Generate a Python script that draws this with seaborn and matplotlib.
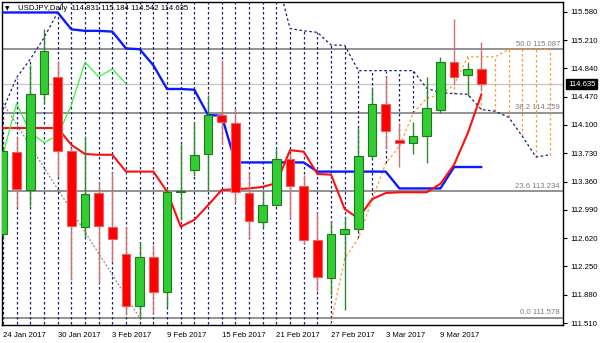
import numpy as np
import pandas as pd
import matplotlib
matplotlib.use("Agg")
import matplotlib.pyplot as plt
import seaborn as sns

# ---------------- data ----------------
opens = [112.68, 113.74, 113.25, 114.51, 114.73, 113.76, 112.77, 113.21, 112.77, 112.41,
         111.73, 112.38, 111.92, 113.22, 113.51, 113.72, 114.23, 114.12, 113.21, 112.83,
         113.06, 113.65, 113.30, 112.60, 112.10, 112.67, 112.74, 113.70, 114.38, 113.90,
         113.87, 113.95, 114.30, 114.92, 114.75, 114.831]
highs = [113.80, 113.95, 114.88, 115.36, 114.94, 113.80, 113.95, 113.35, 113.48, 112.77,
         112.57, 112.53, 113.26, 113.85, 114.14, 114.49, 114.95, 114.32, 113.49, 113.24,
         113.78, 113.73, 113.45, 112.96, 112.84, 112.90, 114.06, 114.60, 114.74, 114.12,
         114.14, 114.73, 114.99, 115.49, 114.91, 115.184]
lows = [112.64, 113.03, 113.04, 114.37, 113.42, 112.07, 112.63, 112.04, 112.31, 111.62,
        111.578, 111.63, 111.72, 112.86, 113.43, 113.25, 113.85, 113.08, 112.62, 112.76,
        113.04, 112.89, 112.55, 111.93, 111.88, 111.68, 112.72, 113.66, 113.79, 113.55,
        113.72, 113.60, 114.26, 114.64, 114.48, 114.542]
closes = [113.76, 113.26, 114.50, 115.06, 113.76, 112.78, 113.20, 112.78, 112.61, 111.73,
          112.38, 111.92, 113.23, 113.24, 113.71, 114.23, 114.14, 113.22, 112.85, 113.06,
          113.66, 113.30, 112.59, 112.11, 112.67, 112.74, 113.70, 114.38, 114.02, 113.87,
          113.96, 114.32, 114.92, 114.73, 114.83, 114.635]

tenkan = [114.06, 114.06, 114.06, 114.06, 114.06, 113.84, 113.72, 113.71, 113.71, 113.49,
          113.49, 113.49, 113.23, 112.77, 112.86, 113.05, 113.25, 113.26, 113.27, 113.29,
          113.34, 113.77, 113.75, 113.46, 113.45, 113.00, 112.88, 113.13, 113.21, 113.22,
          113.22, 113.22, 113.33, 113.58, 113.99, 114.50]
kijun = [115.57, 115.57, 115.57, 115.57, 115.57, 115.35, 115.33, 115.33, 115.32, 115.10,
         115.09, 114.88, 114.57, 114.57, 114.56, 114.23, 114.22, 113.61, 113.61, 113.61,
         113.61, 113.61, 113.61, 113.49, 113.49, 113.49, 113.49, 113.49, 113.49, 113.27,
         113.27, 113.27, 113.27, 113.55, 113.55, 113.55]
chikou = [113.72, 114.38, 114.00, 113.87, 113.96, 114.36, 114.92, 114.73, 114.83, 114.64]

span_a = [114.30, 114.72, 114.96, 115.24, 115.57, 115.90, 116.00, 116.10, 116.15, 116.20,
          116.25, 116.30, 116.30, 116.30, 116.30, 116.25, 116.20, 116.20, 116.15, 116.10,
          116.05, 115.36, 115.33, 115.31, 115.145, 115.14, 114.81, 114.81, 114.81, 114.81,
          114.81, 114.58, 114.52, 114.51, 114.50, 114.30, 114.28, 114.20, 113.95, 113.68,
          113.71]
span_b = [110.80, 110.80, 110.80, 110.80, 110.80, 110.80, 110.80, 110.80, 110.80, 110.80,
          110.80, 110.80, 110.80, 110.80, 110.80, 110.80, 110.80, 110.80, 110.80, 110.80,
          110.80, 110.80, 110.80, 110.80, 111.51, 112.35, 112.62, 113.12, 113.60, 113.82,
          114.25, 114.45, 114.50, 114.62, 114.99, 114.99, 114.99, 115.087, 115.087, 115.087,
          115.087]

fib_levels = ["0.0", "23.6", "38.2", "50.0"]
fib_prices = [111.578, 113.234, 114.259, 115.087]
fib_anchor_bars = [-15, 10]
fib_anchor_prices = [118.596, 111.578]
bid = 114.635

tick_bars = [0, 4, 8, 12, 16, 20, 24, 28, 32]
tick_labels = ["24 Jan 2017", "30 Jan 2017", "3 Feb 2017", "9 Feb 2017", "15 Feb 2017",
               "21 Feb 2017", "27 Feb 2017", "3 Mar 2017", "9 Mar 2017"]
y_tick_labels = ["115.580", "115.210", "114.840", "114.470", "114.100", "113.730",
                 "113.360", "112.990", "112.620", "112.250", "111.880", "111.510"]
title_text = "USDJPY,Daily  114.831 115.184 114.542 114.635"

# ---------------- style ----------------
sns.set_style("white")
plt.rcParams['font.family'] = ['Liberation Sans', 'DejaVu Sans']
FS = 5.6

fig = plt.figure(figsize=(6.0, 3.43), dpi=100)
ax = fig.add_axes([2 / 600, 18 / 343, 561 / 600, 323 / 343])

NAVY = '#1c1c78'
ORANGE = '#ff9a2e'

# Fibonacci levels and bid line
for p in fib_prices:
    ax.axhline(p, color='#8a8a8a', lw=1.3, zorder=1)
ax.axhline(bid, color='#c8c8c8', lw=1.0, zorder=1)
ax.plot(fib_anchor_bars, fib_anchor_prices, color='#8a8a8a', lw=0.9,
        ls=(0, (1.5, 1.5)), zorder=2)

# Ichimoku cloud (histogram of dotted verticals)
a = np.array(span_a)
b = np.array(span_b)
xs = np.arange(len(span_a))
up = a >= b
ax.vlines(xs[up], b[up], a[up], colors=NAVY, linestyles=(0, (2, 2)), lw=0.9, zorder=2)
ax.vlines(xs[~up], a[~up], b[~up], colors=ORANGE, linestyles=(0, (2, 2)), lw=0.9, zorder=2)

df_span = pd.DataFrame({'bar': xs, 'a': span_a, 'b': span_b})
sns.lineplot(data=df_span, x='bar', y='a', color=NAVY, lw=0.9, linestyle=(0, (2, 2)),
             ax=ax, zorder=3)
sns.lineplot(data=df_span, x='bar', y='b', color=ORANGE, lw=0.9, linestyle=(0, (2, 2)),
             ax=ax, zorder=3)

bars = np.arange(len(opens))
df_line = pd.DataFrame({'bar': bars, 'tenkan': tenkan, 'kijun': kijun})
sns.lineplot(data=df_line, x='bar', y='kijun', color='#0a1aff', lw=1.7, ax=ax, zorder=4)
sns.lineplot(data=df_line, x='bar', y='tenkan', color='#ff1010', lw=1.5, ax=ax, zorder=4)
df_ch = pd.DataFrame({'bar': np.arange(len(chikou)), 'chikou': chikou})
sns.lineplot(data=df_ch, x='bar', y='chikou', color='#3cf03c', lw=0.9, ax=ax, zorder=4)

# Candles
o = np.array(opens); c = np.array(closes)
bull = c >= o
wick_cols = np.where(bull, '#2e8b2e', '#d07070')
body_cols = np.where(bull, '#32cd32', '#ff0000')
edge_cols = np.where(bull, '#1f7a1f', '#e86060')
ax.vlines(bars, lows, highs, colors=wick_cols, lw=1.0, zorder=5)
ax.bar(bars, np.maximum(np.abs(c - o), 0.015), bottom=np.minimum(o, c), width=0.62,
       color=body_cols, edgecolor=edge_cols, linewidth=0.8, zorder=6)

# Axes
ax.set_xlim(-0.073, 40.97)
ax.set_ylim(111.485, 115.707)
ax.set_xlabel('')
ax.set_ylabel('')
ax.yaxis.tick_right()
ax.set_yticks([float(t) for t in y_tick_labels])
ax.set_yticklabels(y_tick_labels)
ax.set_xticks(tick_bars)
ax.set_xticklabels(tick_labels)
for lab in ax.get_xticklabels():
    lab.set_ha('left')
ax.tick_params(axis='both', length=3, width=0.8, color='black', labelsize=FS, pad=2,
               direction='out', labelcolor='black')
for s in ax.spines.values():
    s.set_visible(True)
    s.set_color('black')
    s.set_linewidth(1.0)

# Fib labels
for lev, p in zip(fib_levels, fib_prices):
    ax.text(0.9947, p + 0.02, f"{lev} {p:.3f}", transform=ax.get_yaxis_transform(),
            ha='right', va='bottom', fontsize=FS, color='#7b7b86', zorder=7)

# current price box
ax.text(1.009, bid, f"{bid:.3f}", transform=ax.get_yaxis_transform(), ha='left',
        va='center', fontsize=FS, color='white', zorder=10, clip_on=False,
        bbox=dict(boxstyle='square,pad=0.25', fc='black', ec='black'))

# title
fig.text(5 / 600, 1 - 8.7 / 343, '\u25bc', fontsize=4.2, va='center', ha='left',
         color='black', family=['DejaVu Sans'])
fig.text(18 / 600, 1 - 8.7 / 343, title_text, fontsize=FS, va='center', ha='left',
         color='black')

fig.savefig('out.png', dpi=100)
